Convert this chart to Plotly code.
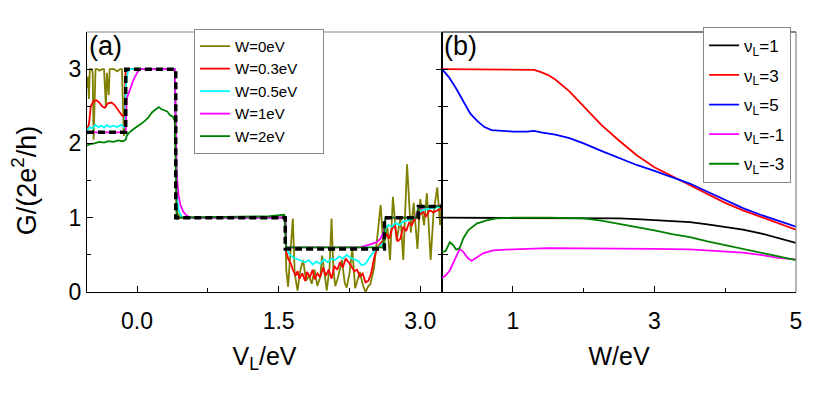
import plotly.graph_objects as go

# ---- panel (a): G vs V_L for several disorder strengths ----
va_w0 = [-0.53, -0.52, -0.51, -0.50, -0.48, -0.47, -0.46, -0.45, -0.44, -0.42, -0.40, -0.37, -0.35,
         -0.33, -0.32, -0.30, -0.29, -0.27, -0.24, -0.21, -0.18, -0.16, -0.14, -0.13, -0.12, 0.40,
         0.41, 0.42, 0.43, 0.44, 0.45, 1.57, 1.58, 1.60, 1.62, 1.65, 1.67, 1.70, 1.73, 1.76, 1.79,
         1.82, 1.85, 1.88, 1.91, 1.94, 1.96, 1.99, 2.01, 2.04, 2.06, 2.08, 2.10, 2.13, 2.17, 2.20,
         2.22, 2.25, 2.28, 2.31, 2.34, 2.36, 2.39, 2.42, 2.45, 2.47, 2.51, 2.54, 2.58, 2.61, 2.65,
         2.68, 2.71, 2.75, 2.79, 2.82, 2.86, 2.90, 2.93, 2.97, 3.00, 3.04, 3.07, 3.11, 3.14, 3.18,
         3.21, 3.23]
g_w0 = [2.75, 2.9, 2.6, 3.0, 3.0, 2.95, 2.05, 2.7, 3.0, 3.0, 2.98, 3.0, 3.0,
        2.5, 2.95, 2.65, 3.0, 3.0, 3.0, 2.97, 3.0, 3.0, 2.1, 2.2, 3.0, 3.0,
        2.0, 1.3, 0.97, 1.05, 1.0, 1.0, 0.3, 0.07, 0.45, 0.99, 0.25, 0.02, 0.3, 0.43, 0.15,
        0.22, 0.11, 0.3, 0.08, 0.2, 0.49, 0.18, 0.02, 0.35, 0.99, 0.3, 0.08, 0.2, 0.43, 0.12,
        0.06, 0.25, 0.58, 0.05, 0.2, 0.27, 0.1, 0.0, 0.08, 0.1, 0.32, 0.71, 1.17, 0.58, 0.9,
        0.43, 1.28, 0.69, 1.0, 0.43, 1.72, 0.8, 1.2, 0.58, 1.25, 0.9, 1.33, 0.43, 1.06, 1.41,
        0.9, 1.25]

va_w03 = [-0.53, -0.51, -0.49, -0.46, -0.43, -0.40, -0.37, -0.34, -0.31, -0.27, -0.24, -0.20, -0.16,
          -0.13, -0.12, 0.40, 0.41, 0.42, 1.57, 1.58, 1.60, 1.63, 1.65, 1.68, 1.70, 1.72, 1.75,
          1.78, 1.80, 1.83, 1.86, 1.88, 1.91, 1.94, 1.97, 2.00, 2.03, 2.06, 2.09, 2.12, 2.15, 2.18,
          2.21, 2.24, 2.27, 2.30, 2.33, 2.36, 2.39, 2.42, 2.45, 2.48, 2.51, 2.54, 2.58, 2.61, 2.64,
          2.67, 2.70, 2.73, 2.76, 2.79, 2.82, 2.85, 2.88, 2.91, 2.94, 2.97, 3.00, 3.03, 3.06, 3.10,
          3.14, 3.18, 3.23]
g_w03 = [2.2, 2.25, 2.5, 2.57, 2.58, 2.55, 2.5, 2.48, 2.54, 2.55, 2.52, 2.45, 2.38,
         2.36, 3.0, 3.0, 1.5, 1.0, 1.0, 0.55, 0.45, 0.38, 0.30, 0.22, 0.28, 0.18, 0.25,
         0.15, 0.27, 0.2, 0.3, 0.17, 0.25, 0.2, 0.33, 0.22, 0.3, 0.18, 0.35, 0.3, 0.4, 0.33,
         0.45, 0.4, 0.35, 0.28, 0.3, 0.21, 0.25, 0.13, 0.15, 0.25, 0.45, 0.58, 0.66, 0.7, 0.78,
         0.72, 0.85, 0.9, 0.68, 0.72, 0.88, 0.82, 0.93, 0.9, 0.98, 1.0, 1.05, 1.08, 1.02, 1.1,
         1.07, 1.1, 1.12]

va_w05 = [-0.53, -0.50, -0.47, -0.44, -0.41, -0.38, -0.35, -0.32, -0.29, -0.25, -0.21, -0.17, -0.13,
          -0.12, -0.10, -0.08, 0.40, 0.41, 0.42, 0.44, 0.47, 0.50, 1.57, 1.58, 1.62, 1.66, 1.70,
          1.74, 1.78, 1.82, 1.86, 1.90, 1.94, 1.98, 2.02, 2.06, 2.10, 2.14, 2.18, 2.22, 2.26, 2.30,
          2.34, 2.38, 2.42, 2.46, 2.50, 2.54, 2.58, 2.61, 2.63, 2.66, 2.70, 2.74, 2.78, 2.82, 2.86,
          2.90, 2.94, 2.98, 3.02, 3.08, 3.14, 3.23]
g_w05 = [2.18, 2.22, 2.2, 2.25, 2.22, 2.24, 2.21, 2.25, 2.22, 2.24, 2.22, 2.25, 2.21,
         2.75, 2.95, 3.0, 3.0, 1.8, 1.3, 1.1, 1.02, 1.0, 1.0, 0.58, 0.5, 0.46, 0.44,
         0.42, 0.4, 0.43, 0.37, 0.41, 0.38, 0.44, 0.4, 0.45, 0.43, 0.48, 0.45, 0.5, 0.46, 0.44,
         0.42, 0.36, 0.38, 0.46, 0.53, 0.58, 0.62, 0.66, 0.85, 0.9, 0.88, 0.93, 0.9, 0.95, 0.96,
         0.98, 1.0, 1.06, 1.1, 1.12, 1.13, 1.15]

va_w1 = [-0.53, -0.40, -0.25, -0.12, -0.11, -0.08, -0.04, 0.00, 0.03, 0.40, 0.41, 0.42, 0.44,
         0.46, 0.49, 0.53, 0.58, 1.57, 1.58, 2.35, 2.42, 2.48, 2.54, 2.58, 2.61, 2.63, 2.70,
         2.95, 2.98, 3.23]
g_w1 = [2.15, 2.15, 2.15, 2.15, 2.6, 2.72, 2.85, 2.95, 3.0, 3.0, 2.2, 1.6, 1.3,
        1.17, 1.08, 1.02, 1.0, 1.0, 0.6, 0.6, 0.62, 0.64, 0.67, 0.72, 0.8, 0.98, 1.0,
        1.0, 1.13, 1.17]

va_w2 = [-0.53, -0.50, -0.45, -0.40, -0.35, -0.30, -0.25, -0.20, -0.15, -0.12, -0.11, -0.08, -0.04,
         0.00, 0.04, 0.08, 0.12, 0.16, 0.20, 0.23, 0.26, 0.29, 0.32, 0.35, 0.38, 0.40, 0.41,
         0.42, 0.44, 1.00, 1.40, 1.56, 1.58, 2.61, 2.63, 2.96, 2.98, 3.23]
g_w2 = [1.97, 1.99, 2.0, 2.02, 2.01, 2.03, 2.02, 2.04, 2.03, 2.05, 2.1, 2.15, 2.19,
        2.22, 2.26, 2.3, 2.35, 2.42, 2.46, 2.49, 2.46, 2.44, 2.43, 2.38, 2.36, 2.3, 1.6,
        1.05, 1.0, 1.01, 1.02, 1.04, 0.6, 0.6, 1.0, 1.0, 1.14, 1.16]

# clean (ideal) staircase, drawn dashed
va_ideal = [-0.53, -0.12, 0.41, 1.57, 2.62, 2.98, 3.23]
g_ideal = [2.15, 3.0, 1.0, 0.58, 1.0, 1.15, 1.15]

# ---- panel (b): G vs W for several filling factors ----
w_nu1 = [0, 0.5, 1, 1.5, 2, 2.25, 2.5, 2.75, 3, 3.25, 3.5, 3.75, 4, 4.25, 4.5, 4.75, 5]
g_nu1 = [1, 1, 1, 1, 1, 0.995, 0.99, 0.98, 0.97, 0.955, 0.94, 0.91, 0.88, 0.84, 0.79, 0.73, 0.66]

w_nu3 = [0, 0.5, 1, 1.2, 1.3, 1.4, 1.5, 1.6, 1.7, 1.8, 1.9, 2.0, 2.25, 2.5, 2.75, 3.0, 3.25,
         3.5, 3.75, 4.0, 4.25, 4.5, 4.75, 5.0]
g_nu3 = [3, 3, 3, 3, 2.99, 2.96, 2.92, 2.86, 2.78, 2.7, 2.6, 2.5, 2.25, 2.04, 1.84, 1.68, 1.56,
         1.45, 1.32, 1.2, 1.1, 1.01, 0.93, 0.84]

w_nu5 = [0, 0.05, 0.1, 0.2, 0.3, 0.4, 0.5, 0.6, 0.7, 0.8, 1.0, 1.2, 1.3, 1.4, 1.6, 1.8, 2.0,
         2.25, 2.5, 2.75, 3.0, 3.25, 3.5, 3.75, 4.0, 4.25, 4.5, 4.75, 5.0]
g_nu5 = [3.0, 2.95, 2.89, 2.74, 2.57, 2.4, 2.3, 2.22, 2.18, 2.17, 2.16, 2.16, 2.17, 2.15, 2.12,
         2.07, 2.0, 1.9, 1.8, 1.71, 1.63, 1.55, 1.46, 1.35, 1.24, 1.13, 1.04, 0.96, 0.88]

w_num1 = [0, 0.05, 0.11, 0.18, 0.25, 0.3, 0.37, 0.42, 0.49, 0.58, 0.72, 1.0, 1.5, 2.0, 2.5,
          3.0, 3.5, 4.0, 4.25, 4.5, 4.75, 5.0]
g_num1 = [0.19, 0.22, 0.29, 0.43, 0.58, 0.54, 0.45, 0.42, 0.46, 0.52, 0.56, 0.575, 0.59, 0.59,
          0.585, 0.58, 0.575, 0.55, 0.53, 0.5, 0.46, 0.44]

w_num3 = [0, 0.05, 0.11, 0.16, 0.2, 0.25, 0.3, 0.37, 0.49, 0.63, 0.77, 1.0, 1.5, 2.0, 2.25,
          2.5, 2.75, 3.0, 3.25, 3.5, 3.75, 4.0, 4.25, 4.5, 4.75, 5.0]
g_num3 = [0.54, 0.55, 0.67, 0.63, 0.57, 0.59, 0.72, 0.83, 0.92, 0.965, 0.99, 1.0, 1.0, 0.99,
          0.96, 0.92, 0.87, 0.83, 0.78, 0.74, 0.68, 0.63, 0.58, 0.54, 0.49, 0.43]

FONT = 'Liberation Sans, Arial, sans-serif'
PAD = '\u00a0' * 5  # widens legend (a) box a little

fig = go.Figure()

panel_a = [
    (va_w0, g_w0, 'W=0eV', '#808000'),
    (va_w03, g_w03, 'W=0.3eV' + PAD, '#ff0000'),
    (va_w05, g_w05, 'W=0.5eV' + PAD, '#00ffff'),
    (va_w1, g_w1, 'W=1eV', '#ff00ff'),
    (va_w2, g_w2, 'W=2eV', '#008000'),
]
for xs, ys, name, color in panel_a:
    fig.add_trace(go.Scatter(x=xs, y=ys, name=name, mode='lines',
                             line=dict(color=color, width=1.8),
                             xaxis='x', yaxis='y', legend='legend'))

fig.add_trace(go.Scatter(x=va_ideal, y=g_ideal, mode='lines', showlegend=False,
                         line=dict(color='black', width=3.5, dash='7px,4px', shape='hv'),
                         xaxis='x', yaxis='y'))

panel_b = [
    (w_nu1, g_nu1, 'ν<sub>L</sub>=1', '#000000'),
    (w_nu3, g_nu3, 'ν<sub>L</sub>=3', '#ff0000'),
    (w_nu5, g_nu5, 'ν<sub>L</sub>=5', '#0000ff'),
    (w_num1, g_num1, 'ν<sub>L</sub>=-1', '#ff00ff'),
    (w_num3, g_num3, 'ν<sub>L</sub>=-3', '#008000'),
]
for i, (xs, ys, name, color) in enumerate(panel_b):
    # separate groups so tracegroupgap spreads the rows out
    fig.add_trace(go.Scatter(x=xs, y=ys, name=name, mode='lines', legendgroup=f'b{i}',
                             line=dict(color=color, width=1.8),
                             xaxis='x2', yaxis='y2', legend='legend2'))

# the page body keeps its 8px default margin, so the plot box is shifted by that much
split = (442 - 87) / (796 - 87)
axis_common = dict(showline=True, linecolor='black', linewidth=1.2, ticks='inside',
                   tickcolor='black', ticklen=6, showgrid=False, zeroline=False,
                   tickfont=dict(family=FONT, size=23, color='black'))

fig.update_layout(
    width=830, height=395,
    margin=dict(l=79, r=42, t=24, b=111),
    plot_bgcolor='white', paper_bgcolor='white',
    font=dict(family=FONT, color='black'),
    xaxis=dict(domain=[0, split], range=[-0.53, 3.23], tick0=0, dtick=1.5,
               tickformat='.1f', ticklabelstandoff=8,
               minor=dict(dtick=0.75, ticks='inside', ticklen=4, tickcolor='black'),
               title=dict(text='V<sub>L</sub>/eV', font=dict(family=FONT, size=25), standoff=14),
               **axis_common),
    yaxis=dict(range=[0, 3.5], tick0=0, dtick=1, mirror='ticks',
               minor=dict(dtick=0.5, ticks='inside', ticklen=4, tickcolor='black'),
               **axis_common),
    xaxis2=dict(domain=[split, 1], range=[0, 5], tick0=1, dtick=2, anchor='y2',
                ticklabelstandoff=8,
                minor=dict(dtick=1, ticks='inside', ticklen=4, tickcolor='black'),
                title=dict(text='W/eV', font=dict(family=FONT, size=25), standoff=14),
                **axis_common),
    yaxis2=dict(range=[0, 3.5], tick0=0, dtick=0.5, anchor='x2', showticklabels=False,
                **axis_common),
    legend=dict(x=0.151, y=1.012, xanchor='left', yanchor='top', bgcolor='white',
                bordercolor='#888888', borderwidth=1, font=dict(family=FONT, size=15),
                tracegroupgap=0),
    legend2=dict(x=0.869, y=1.02, xanchor='left', yanchor='top', bgcolor='white',
                 bordercolor='#888888', borderwidth=1, font=dict(family=FONT, size=17),
                 tracegroupgap=4.5),
    shapes=[
        dict(type='line', xref='x domain', yref='y domain', x0=0, x1=1, y0=1, y1=1,
             line=dict(color='#888888', width=1.2)),
        dict(type='line', xref='x2 domain', yref='y2 domain', x0=0, x1=1, y0=1, y1=1,
             line=dict(color='black', width=1.2)),
        dict(type='line', xref='x2 domain', yref='y2 domain', x0=1, x1=1, y0=0, y1=1,
             line=dict(color='#888888', width=1.2)),
    ],
    annotations=[
        dict(text='G/(2e<sup>2</sup>/h)', xref='paper', yref='paper', x=-0.0885, y=0.431,
             xanchor='center', yanchor='middle', textangle=-90, showarrow=False,
             font=dict(family=FONT, size=27)),
        dict(text='(a)', xref='x domain', yref='y domain', x=0.0, y=1.01, xanchor='left',
             yanchor='top', showarrow=False, font=dict(family=FONT, size=27)),
        dict(text='(b)', xref='x2 domain', yref='y2 domain', x=0.0, y=1.01, xanchor='left',
             yanchor='top', showarrow=False, font=dict(family=FONT, size=27)),
    ],
)

fig.write_html('out.html')
